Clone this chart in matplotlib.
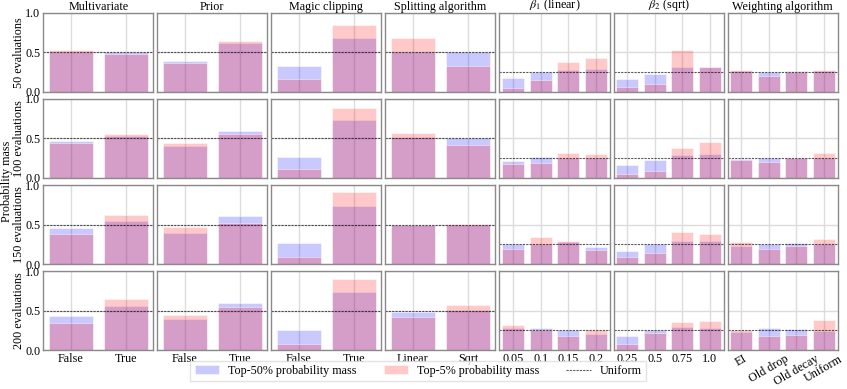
import matplotlib
matplotlib.use("Agg")
import matplotlib.pyplot as plt
import numpy as np

plt.rcParams['font.family'] = ['Liberation Serif', 'DejaVu Serif']
plt.rcParams['mathtext.fontset'] = 'stix'

col_titles = ["Multivariate", "Prior", "Magic clipping", "Splitting algorithm",
              r"$\beta_1$ (linear)", r"$\beta_2$ (sqrt)", "Weighting algorithm"]
row_labels = ["50 evaluations", "100 evaluations", "150 evaluations", "200 evaluations"]

cats_multivariate = ["False", "True"]
cats_prior = ["False", "True"]
cats_magic = ["False", "True"]
cats_splitting = ["Linear", "Sqrt"]
cats_beta1 = ["0.05", "0.1", "0.15", "0.2"]
cats_beta2 = ["0.25", "0.5", "0.75", "1.0"]
cats_weighting = ["EI", "Old drop", "Old decay", "Uniform"]

# Top-50% probability mass, per row (evaluations) and column (parameter)
top50_multivariate = [[0.51, 0.51], [0.464, 0.536], [0.453, 0.54], [0.438, 0.56]]
top50_prior = [[0.39, 0.615], [0.40, 0.60], [0.394, 0.606], [0.396, 0.596]]
top50_magic = [[0.33, 0.68], [0.264, 0.736], [0.267, 0.737], [0.255, 0.74]]
top50_splitting = [[0.51, 0.50], [0.515, 0.502], [0.50, 0.50], [0.485, 0.51]]
top50_beta1 = [[0.18, 0.256, 0.27, 0.29], [0.22, 0.263, 0.254, 0.254],
               [0.258, 0.254, 0.28, 0.22], [0.283, 0.275, 0.25, 0.21]]
top50_beta2 = [[0.158, 0.22, 0.316, 0.316], [0.16, 0.233, 0.288, 0.297],
               [0.167, 0.25, 0.296, 0.29], [0.18, 0.254, 0.29, 0.275]]
top50_weighting = [[0.265, 0.25, 0.265, 0.26], [0.235, 0.246, 0.254, 0.246],
                   [0.233, 0.25, 0.27, 0.25], [0.233, 0.275, 0.267, 0.237]]

# Top-5% probability mass
top5_multivariate = [[0.525, 0.48], [0.447, 0.553], [0.377, 0.62], [0.345, 0.647]]
top5_prior = [[0.36, 0.645], [0.447, 0.55], [0.47, 0.52], [0.447, 0.545]]
top5_magic = [[0.16, 0.85], [0.11, 0.885], [0.085, 0.91], [0.08, 0.906]]
top5_splitting = [[0.68, 0.325], [0.57, 0.417], [0.49, 0.51], [0.425, 0.566]]
top5_beta1 = [[0.05, 0.155, 0.376, 0.427], [0.174, 0.195, 0.314, 0.30],
              [0.19, 0.346, 0.29, 0.18], [0.32, 0.254, 0.18, 0.25]]
top5_beta2 = [[0.055, 0.094, 0.534, 0.31], [0.047, 0.093, 0.38, 0.457],
              [0.083, 0.137, 0.408, 0.383], [0.08, 0.217, 0.36, 0.363]]
top5_weighting = [[0.28, 0.20, 0.25, 0.278], [0.23, 0.20, 0.246, 0.318],
                  [0.28, 0.19, 0.233, 0.317], [0.258, 0.175, 0.196, 0.38]]

cats = [cats_multivariate, cats_prior, cats_magic, cats_splitting,
        cats_beta1, cats_beta2, cats_weighting]
top50 = [top50_multivariate, top50_prior, top50_magic, top50_splitting,
         top50_beta1, top50_beta2, top50_weighting]
top5 = [top5_multivariate, top5_prior, top5_magic, top5_splitting,
        top5_beta1, top5_beta2, top5_weighting]

blue = (0.0, 0.0, 1.0, 0.21)
red = (1.0, 0.0, 0.0, 0.21)
FS = 8.7

fig, axes = plt.subplots(4, 7, figsize=(8.47, 3.89), dpi=100, sharey=True)
fig.subplots_adjust(left=0.051, right=0.989, top=0.967, bottom=0.10,
                    wspace=0.036, hspace=0.09)

for r in range(4):
    for c in range(7):
        ax = axes[r, c]
        n = len(cats[c])
        x = np.arange(n)
        ax.set_axisbelow(True)
        ax.grid(True, color='#dcdcdc', lw=1.0)
        b1 = ax.bar(x, top50[c][r], width=0.8, color=blue, edgecolor=(1, 1, 1, 0.6), lw=0.5,
                    label="Top-50% probability mass")
        b2 = ax.bar(x, top5[c][r], width=0.8, color=red, edgecolor=(1, 1, 1, 0.6), lw=0.5,
                    label="Top-5% probability mass")
        ln = ax.axhline(1.0 / n, color='k', ls=(0, (2, 1)), lw=0.8, alpha=0.65, label="Uniform")
        if r == 0 and c == 0:
            leg_handles = [b1, b2, ln]
        ax.set_xlim(-0.5, n - 0.5)
        ax.set_ylim(0, 1.0)
        ax.set_yticks([0, 0.5, 1.0])
        ax.set_xticks(x)
        for s in ax.spines.values():
            s.set_color('#8a8a8a')
            s.set_linewidth(1.0)
        ax.tick_params(length=0, labelsize=FS, pad=2)
        if r == 3:
            if c == 6:
                ax.set_xticklabels(cats[c], rotation=30, ha='center', va='top')
            else:
                ax.set_xticklabels(cats[c])
        else:
            ax.tick_params(labelbottom=False)
        if r == 0:
            ax.set_title(col_titles[c], fontsize=FS, pad=0.5)
        if c == 0:
            ax.set_ylabel(row_labels[r], fontsize=FS, labelpad=0.5)
            ax.set_yticklabels(["0.0", "0.5", "1.0"])

fig.text(0.008, 0.535, "Probability mass", rotation=90, va='center', ha='center', fontsize=FS)

fig.legend(leg_handles, ["Top-50% probability mass", "Top-5% probability mass", "Uniform"],
           loc='lower center', bbox_to_anchor=(0.494, 0.005), ncol=3,
           fontsize=FS, frameon=True, edgecolor='#dddddd', fancybox=False,
           handlelength=2.0, columnspacing=2.2, borderpad=0.35, handletextpad=0.8)

fig.savefig("out.png", dpi=100)
